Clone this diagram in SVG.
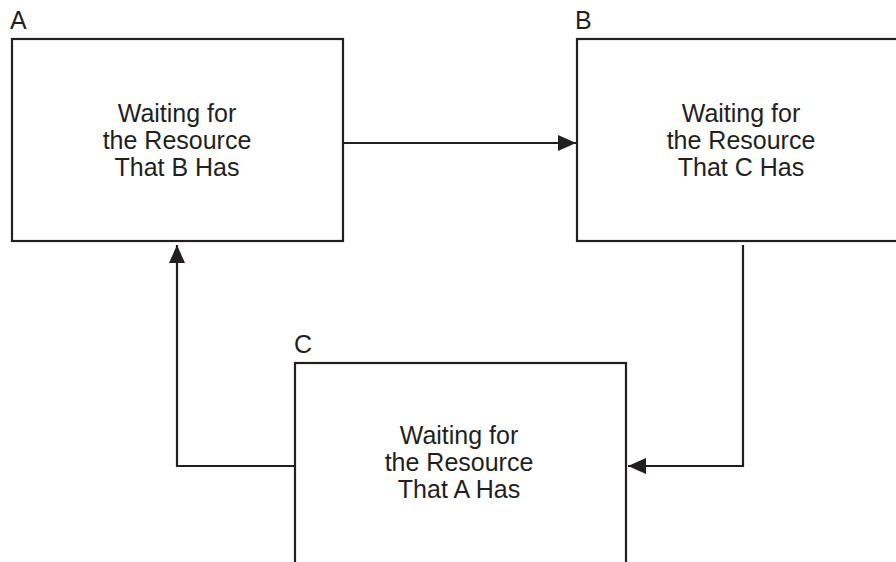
<svg xmlns="http://www.w3.org/2000/svg" width="896" height="562" viewBox="0 0 896 562">
<style>
.box{fill:#fff;stroke:#231f20;stroke-width:2.2}
.lbl{font-family:"Liberation Sans",Arial,sans-serif;font-size:25px;fill:#231f20}
.txt{font-family:"Liberation Sans",Arial,sans-serif;font-size:25px;fill:#231f20;text-anchor:middle}
.edge{fill:none;stroke:#231f20;stroke-width:2.2}
</style>
<defs>
<marker id="arr" markerUnits="userSpaceOnUse" markerWidth="18" markerHeight="16" refX="18" refY="8" orient="auto">
<path d="M0,0 L18,8 L0,16 Z" fill="#231f20"/>
</marker>
</defs>
<rect width="896" height="562" fill="#fff"/>
<g id="nodeA">
<text class="lbl" x="10" y="29">A</text>
<rect class="box" x="12" y="39" width="331" height="202"/>
<text class="txt" x="177" y="122">Waiting for</text>
<text class="txt" x="177" y="149">the Resource</text>
<text class="txt" x="177" y="176">That B Has</text>
</g>
<g id="nodeB">
<text class="lbl" x="575" y="29">B</text>
<rect class="box" x="577" y="39" width="340" height="202"/>
<text class="txt" x="741" y="122">Waiting for</text>
<text class="txt" x="741" y="149">the Resource</text>
<text class="txt" x="741" y="176">That C Has</text>
</g>
<g id="nodeC">
<text class="lbl" x="294" y="353">C</text>
<rect class="box" x="295" y="363" width="331" height="220"/>
<text class="txt" x="459" y="444">Waiting for</text>
<text class="txt" x="459" y="471">the Resource</text>
<text class="txt" x="459" y="498">That A Has</text>
</g>
<g id="connectors">
<path class="edge" d="M343,143 L576,143" marker-end="url(#arr)"/>
<path class="edge" d="M743,245 L743,466 L628,466" marker-end="url(#arr)"/>
<path class="edge" d="M295,466 L177,466 L177,245" marker-end="url(#arr)"/>
</g>
</svg>
